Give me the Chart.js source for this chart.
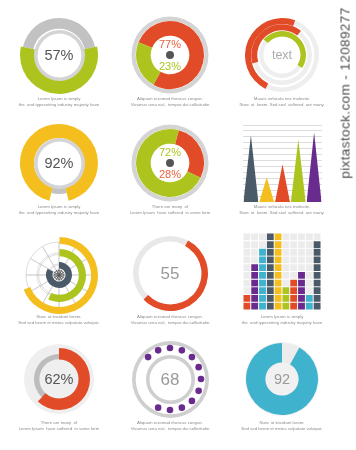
<!DOCTYPE html>
<html><head><meta charset="utf-8">
<script src="https://cdn.jsdelivr.net/npm/chart.js@4/dist/chart.umd.min.js"></script>
<style>
html,body{margin:0;padding:0;background:#fff;}
#stage{position:relative;width:356px;height:450px;overflow:hidden;font-family:"Liberation Sans",Arial,sans-serif;}
canvas.c{position:absolute;pointer-events:none;}
.lbl{position:absolute;transform:translate(-50%,-50%);white-space:nowrap;line-height:1;}
.cap{position:absolute;width:130px;margin-left:-65px;text-align:center;font-size:4.3px;line-height:6.3px;color:#8a8a8a;white-space:pre;}
.wm{position:absolute;left:345px;top:93px;transform:translate(-50%,-50%) rotate(-90deg);font-size:13.5px;color:#4a4a4a;white-space:nowrap;letter-spacing:0.4px;}
</style></head><body><div id="stage"></div>
<script>
// ---------- data ----------
const ringPercents = [57, 92, 62];          // green ring, yellow ring, red ring
const splitTop = [77, 23];                   // red / green
const splitMid = [72, 28];                   // green / red
const textArcs = [48, 40, 48];               // outer red, middle red, green (percent of circle)
const peakCategories = ['A', 'B', 'C', 'D', 'E'];
const peakValues = [90, 33, 51, 84, 94];
const radialArcs = [69, 57, 83];             // yellow, green, slate
const gaugeValue = 55;
const blockColumns = ['1','2','3','4','5','6','7','8','9','10'];
const blockHeights = [2, 6, 8, 10, 10, 3, 4, 5, 2, 9];
const dotSlots = [1,1,1,1,1,1,1,1,1,1,0,0,0,0,1,1];
const dotValue = 68;
const donutValue = 92;
const captions = [
  ['Lorem Ipsum is simply', 'the  and typesetting industry majority have'],
  ['Aliquam euismod rhoncus congue.', 'Vivamus urna nisl,  tempor dui sollicitudin'],
  ['Mauris vehicula nec molestie.', 'Nunc ut  lorem. Sed sed  suffered  are many.'],
  ['Lorem Ipsum is simply', 'the  and typesetting industry majority have'],
  ['There are many  of', 'Lorem Ipsum  have suffered  in some form'],
  ['Mauris vehicula nec molestie.', 'Nunc ut  lorem. Sed sed  suffered  are many.'],
  ['Nunc ut tincidunt lorem.', 'Sed sed lorem et metus vulputate volutpat.'],
  ['Aliquam euismod rhoncus congue.', 'Vivamus urna nisl,  tempor dui sollicitudin'],
  ['Lorem Ipsum is simply', 'the  and typesetting industry majority have'],
  ['There are many  of', 'Lorem Ipsum  have suffered  in some form'],
  ['Aliquam euismod rhoncus congue.', 'Vivamus urna nisl,  tempor dui sollicitudin'],
  ['Nunc ut tincidunt lorem.', 'Sed sed lorem et metus vulputate volutpat.']
];
const watermark = 'pixtastock.com - 12089277';

// ---------- styling ----------
const RED = '#e24b27', GREEN = '#adc41e', YELLOW = '#f3be1e', SLATE = '#4b5a68',
      PURPLE = '#6a2b8e', CYAN = '#3fb2cd', GRAY = '#c2c2c2', LIGHT = '#eeeeee';
const colX = [59, 170, 282];
const rowY = [55, 163, 273, 379];

Chart.defaults.animation = false;
Chart.defaults.font.family = '"Liberation Sans", Arial, sans-serif';
const stage = document.getElementById('stage');

function makeCanvas(left, top, w, h) {
  const cv = document.createElement('canvas');
  cv.className = 'c';
  cv.width = w; cv.height = h;
  cv.style.left = left + 'px'; cv.style.top = top + 'px';
  cv.style.width = w + 'px'; cv.style.height = h + 'px';
  stage.appendChild(cv);
  return cv;
}
const noPlugins = {legend: {display: false}, tooltip: {enabled: false}};

function ring(cx, cy, rOut, rIn, values, colors, rotation, border) {
  const size = Math.ceil(rOut * 2 + 6);
  const cv = makeCanvas(cx - size / 2, cy - size / 2, size, size);
  return new Chart(cv, {
    type: 'doughnut',
    data: {datasets: [{data: values, backgroundColor: colors,
      borderWidth: border ? border.w : 0, borderColor: border ? border.c : 'transparent', borderAlign: 'center'}]},
    options: {responsive: false, animation: false, events: [], radius: rOut, cutout: rIn,
      rotation: rotation || 0, layout: {padding: 0}, plugins: noPlugins}
  });
}
function circle(cx, cy, r, color, w) { const h = (w || 1) / 2; return ring(cx, cy, r + h, r - h, [1], [color]); }
function disc(cx, cy, r, color) { return ring(cx, cy, r, 0, [1], [color]); }
function label(cx, cy, text, size, color) {
  const d = document.createElement('div');
  d.className = 'lbl'; d.textContent = text;
  d.style.left = cx + 'px'; d.style.top = cy + 'px';
  d.style.fontSize = size + 'px'; d.style.color = color;
  stage.appendChild(d);
}
function caption(i) {
  const d = document.createElement('div');
  d.className = 'cap';
  d.textContent = captions[i].join('\n');
  d.style.left = colX[i % 3] + 'px';
  d.style.top = (rowY[Math.floor(i / 3)] + 41) + 'px';
  stage.appendChild(d);
}
const rest = v => [v, 100 - v];
function centeredStart(p, centerDeg) { return centerDeg - p * 3.6 / 2; }

// ---------- 1: 57% ----------
(function () {
  const cx = colX[0], cy = rowY[0], p = ringPercents[0];
  const rot = centeredStart(p, 180);
  ring(cx, cy, 37, 28.5, rest(p), ['transparent', GRAY], rot);
  ring(cx, cy, 39, 25.5, rest(p), [GREEN, 'transparent'], rot);
  circle(cx, cy, 25, '#d4d4d4', 1);
  label(cx, cy, p + '%', 14.5, '#555');
})();

// ---------- 2: 77 / 23 ----------
(function () {
  const cx = colX[1], cy = rowY[0];
  circle(cx, cy, 38, '#d4d4d4', 1.1);
  ring(cx, cy, 34, 21, splitTop, [RED, GREEN], 292);
  disc(cx, cy, 4, '#555');
  label(cx, cy - 11, splitTop[0] + '%', 11, '#e8613f');
  label(cx, cy + 11, splitTop[1] + '%', 11, GREEN);
})();

// ---------- 3: text arcs ----------
(function () {
  const cx = colX[2], cy = rowY[0];
  circle(cx, cy, 36, LIGHT, 2);
  circle(cx, cy, 29, LIGHT, 2);
  circle(cx, cy, 22, LIGHT, 2);
  ring(cx, cy, 37.5, 34, rest(textArcs[0]), [RED, 'transparent'], 207);
  ring(cx, cy, 30.8, 27.3, rest(textArcs[1]), [RED, 'transparent'], 254);
  ring(cx, cy, 24, 20.8, rest(textArcs[2]), [GREEN, 'transparent'], 310);
  label(cx, cy, 'text', 12.5, '#ababab');
})();

// ---------- 4: 92% ----------
(function () {
  const cx = colX[0], cy = rowY[1], p = ringPercents[1];
  const rot = centeredStart(p, 0);
  ring(cx, cy, 31, 27, rest(p), ['transparent', GRAY], rot);
  ring(cx, cy, 39, 27, rest(p), [YELLOW, 'transparent'], rot);
  circle(cx, cy, 25, '#d4d4d4', 1);
  label(cx, cy, p + '%', 14.5, '#555');
})();

// ---------- 5: 72 / 28 ----------
(function () {
  const cx = colX[1], cy = rowY[1];
  circle(cx, cy, 38, '#d4d4d4', 1.1);
  ring(cx, cy, 34, 21, [splitMid[1], splitMid[0]], [RED, GREEN], 15);
  disc(cx, cy, 4, '#555');
  label(cx, cy - 11, splitMid[0] + '%', 11, GREEN);
  label(cx, cy + 11, splitMid[1] + '%', 11, '#e8613f');
})();

// ---------- 6: peaks ----------
(function () {
  const cv = makeCanvas(243, 125, 79, 77);
  const colors = [SLATE, YELLOW, RED, GREEN, PURPLE];
  const datasets = peakValues.map((v, i) => ({
    label: peakCategories[i],
    data: [{x: i + 0.03, y: 0}, {x: i + 0.5, y: v}, {x: i + 0.97, y: 0}],
    backgroundColor: colors[i], borderWidth: 0, pointRadius: 0, fill: 'origin', tension: 0
  }));
  new Chart(cv, {
    type: 'line', data: {datasets},
    options: {responsive: false, animation: false, events: [], layout: {padding: 0}, plugins: noPlugins,
      scales: {
        x: {type: 'linear', min: 0, max: peakCategories.length, display: false},
        y: {min: 0, max: 104, ticks: {display: false, stepSize: 8}, grid: {color: '#dcdcdc', drawTicks: false, lineWidth: 1}, border: {display: false}}
      }}
  });
})();

// ---------- 7: radial grid ----------
(function () {
  const cx = colX[0], cy = rowY[2] + 2;
  const spokes = new Array(12).fill(1);
  const clear = new Array(12).fill('transparent');
  const grid = {w: 0.7, c: '#cdcdcd'};
  ring(cx, cy, 33, 22, spokes, clear, 0, grid);
  ring(cx, cy, 22, 11, spokes, clear, 0, grid);
  ring(cx, cy, 11, 5, spokes, clear, 0, grid);
  ring(cx, cy, 5, 0, spokes, clear, 0, {w: 0.7, c: '#555'});
  ring(cx, cy, 38.5, 34, rest(radialArcs[0]), [YELLOW, 'transparent'], 0);
  ring(cx, cy, 26.5, 21.5, rest(radialArcs[1]), [GREEN, 'transparent'], 0);
  ring(cx, cy, 13, 8, rest(radialArcs[2]), [SLATE, 'transparent'], 0);
})();

// ---------- 8: gauge 55 ----------
(function () {
  const cx = colX[1], cy = rowY[2];
  circle(cx, cy, 35.5, '#e8e8e8', 3);
  ring(cx, cy, 37.5, 33.5, rest(gaugeValue), [RED, 'transparent'], 28);
  label(cx, cy, String(gaugeValue), 17, '#9a9a9a');
})();

// ---------- 9: block matrix ----------
(function () {
  const cv = makeCanvas(243, 233, 78, 77);
  const colColors = [RED, PURPLE, CYAN, SLATE, YELLOW, GREEN, RED, PURPLE, CYAN, SLATE];
  const rows = 10;
  const datasets = [];
  for (let r = 0; r < rows; r++) {
    datasets.push({
      data: blockColumns.map(() => 1),
      backgroundColor: blockHeights.map((h, c) => r < h ? colColors[c] : '#ececec'),
      borderColor: '#ffffff', borderWidth: 0.8, borderSkipped: false,
      barPercentage: 1, categoryPercentage: 1
    });
  }
  new Chart(cv, {
    type: 'bar', data: {labels: blockColumns, datasets},
    options: {responsive: false, animation: false, events: [], layout: {padding: 0}, plugins: noPlugins,
      scales: {x: {stacked: true, display: false}, y: {stacked: true, display: false, min: 0, max: rows}}}
  });
})();

// ---------- 10: 62% ----------
(function () {
  const cx = colX[0], cy = rowY[3], p = ringPercents[2];
  disc(cx, cy, 35, '#efefef');
  circle(cx, cy, 23.5, '#bdbdbd', 3);
  ring(cx, cy, 31, 21.5, rest(p), [RED, 'transparent'], 0);
  label(cx, cy, p + '%', 14.5, '#555');
})();

// ---------- 11: dots 68 ----------
(function () {
  const cx = colX[1], cy = rowY[3];
  circle(cx, cy, 38, '#cfcfcf', 1);
  circle(cx, cy, 24, '#cfcfcf', 1);
  const size = 84;
  const cv = makeCanvas(cx - size / 2, cy - size / 2, size, size);
  new Chart(cv, {
    type: 'radar',
    data: {labels: dotSlots.map((_, i) => String(i)),
      datasets: [{data: dotSlots.map(f => f ? 31 : null), showLine: false, fill: false,
        backgroundColor: 'transparent', borderColor: 'transparent', borderWidth: 0,
        pointRadius: 3.3, pointBackgroundColor: PURPLE, pointBorderWidth: 0, spanGaps: false}]},
    options: {responsive: false, animation: false, events: [], layout: {padding: 0}, plugins: noPlugins,
      scales: {r: {display: false, min: 0, max: size / 2, pointLabels: {display: false}}}}
  });
  label(cx, cy, String(dotValue), 17, '#9a9a9a');
})();

// ---------- 12: 92 donut ----------
(function () {
  const cx = colX[2], cy = rowY[3];
  disc(cx, cy, 37, '#f1f1f1');
  ring(cx, cy, 36, 18, [100 - donutValue, donutValue], ['#ececec', CYAN], 0);
  label(cx, cy, String(donutValue), 14.5, '#9a9a9a');
})();

for (let i = 0; i < captions.length; i++) caption(i);

const wm = document.createElement('div');
wm.className = 'wm'; wm.textContent = watermark;
stage.appendChild(wm);
</script></body></html>
